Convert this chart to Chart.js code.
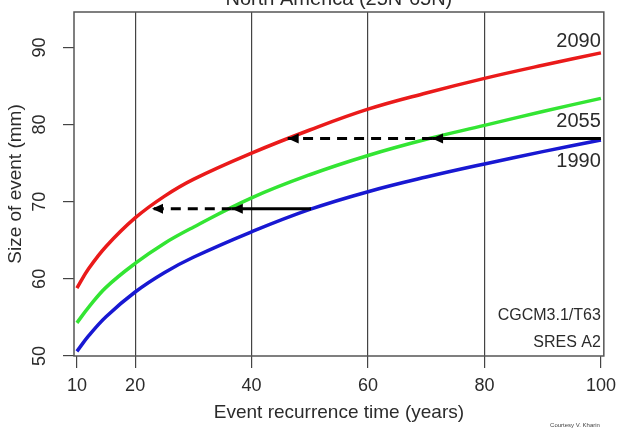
<!DOCTYPE html>
<html><head><meta charset="utf-8">
<script src="https://cdn.jsdelivr.net/npm/chart.js@4/dist/chart.umd.min.js"></script>
<style>html,body{margin:0;padding:0;background:#fff}canvas{display:block}</style>
</head><body>
<canvas id="c" width="623" height="432" style="width:623px;height:432px"></canvas>
<script>
// ---- data ----
const xYears    = [10, 12, 15, 20, 25, 30, 40, 50, 60, 70, 80, 90, 100];
const red2090   = [58.8, 61.3, 64.2, 67.9, 70.7, 72.9, 76.3, 79.3, 82.0, 84.1, 86.0, 87.7, 89.3];
const green2055 = [54.3, 56.3, 58.9, 62.0, 64.6, 66.7, 70.5, 73.5, 76.0, 78.1, 79.9, 81.7, 83.4];
const blue1990  = [50.6, 52.6, 55.1, 58.3, 60.8, 62.8, 66.1, 69.0, 71.3, 73.2, 74.9, 76.5, 78.0];
const seriesNames = ['2090', '2055', '1990'];

// arrows: event size level, recurrence in 1990, 2055, 2090
const arrowLevels   = [69.1, 78.2];
const arrowFrom1990 = [50.2, 100];
const arrowAt2055   = [36.6, 71.0];
const arrowAt2090   = [22.9, 46.2];

const xTickValues = [10, 20, 40, 60, 80, 100];
const yTickValues = [50, 60, 70, 80, 90];

const titleText  = 'North America (25N-65N)';
const xTitleText = 'Event recurrence time (years)';
const yTitleText = 'Size of event (mm)';
const noteLines  = ['CGCM3.1/T63', 'SRES A2'];
const courtesyText = 'Courtesy V. Kharin';

// ---- build datasets ----
const pts = (ys) => xYears.map((x, i) => ({x, y: ys[i]}));
const datasets = [];
arrowLevels.forEach((lv, i) => {
  datasets.push({data: [{x: arrowFrom1990[i], y: lv}, {x: arrowAt2055[i], y: lv}],
    borderColor: '#000', borderWidth: 3, pointRadius: 0, tension: 0});
  datasets.push({data: [{x: arrowAt2055[i], y: lv}, {x: arrowAt2090[i], y: lv}],
    borderColor: '#000', borderWidth: 3, borderDash: [10, 7], pointRadius: 0, tension: 0});
});
const curveColors = ['#ea1a1a', '#33e533', '#1818d2'];
[red2090, green2055, blue1990].forEach((ys, i) => {
  datasets.push({label: seriesNames[i], data: pts(ys), borderColor: curveColors[i],
    borderWidth: 3.5, pointRadius: 0, tension: 0.4});
});

const TXT = '#2b2b2b';
const FONT = "'Liberation Sans', Arial, sans-serif";

const deco = {
  id: 'deco',
  beforeDraw(chart) {
    const ctx = chart.ctx;
    ctx.save(); ctx.fillStyle = '#fff'; ctx.fillRect(0, 0, chart.width, chart.height); ctx.restore();
  },
  afterDatasetsDraw(chart) {
    const ctx = chart.ctx, xs = chart.scales.x, ys = chart.scales.y, a = chart.chartArea;
    ctx.save();
    // arrowheads
    ctx.fillStyle = '#000';
    const head = (xv, yv) => {
      const px = xs.getPixelForValue(xv), py = ys.getPixelForValue(yv);
      ctx.beginPath(); ctx.moveTo(px, py); ctx.lineTo(px + 11, py - 5); ctx.lineTo(px + 11, py + 5); ctx.closePath(); ctx.fill();
    };
    arrowLevels.forEach((lv, i) => { head(arrowAt2055[i], lv); head(arrowAt2090[i], lv); });
    // frame
    ctx.strokeStyle = '#555'; ctx.lineWidth = 1.5;
    ctx.strokeRect(a.left, a.top, a.right - a.left, a.bottom - a.top);
    // series labels
    ctx.fillStyle = TXT; ctx.font = '20px ' + FONT; ctx.textAlign = 'right'; ctx.textBaseline = 'middle';
    const lx = a.right - 3;
    ctx.fillText(seriesNames[0], lx, 41);
    ctx.fillText(seriesNames[1], lx, 121);
    ctx.fillText(seriesNames[2], lx, 161);
    ctx.font = '16px ' + FONT;
    ctx.fillText(noteLines[0], lx, 316);
    ctx.fillText(noteLines[1], lx, 343);
    ctx.restore();
  },
  afterDraw(chart) {
    const ctx = chart.ctx, ys = chart.scales.y, a = chart.chartArea;
    ctx.save();
    ctx.fillStyle = TXT;
    // y tick labels (rotated)
    ctx.font = '18px ' + FONT; ctx.textAlign = 'center'; ctx.textBaseline = 'middle';
    ys.ticks.forEach(t => {
      const py = ys.getPixelForValue(t.value);
      ctx.save(); ctx.translate(40, py); ctx.rotate(-Math.PI / 2); ctx.fillText(String(t.value), 0, 0); ctx.restore();
    });
    // y title
    ctx.font = '19px ' + FONT;
    ctx.save(); ctx.translate(16, (a.top + a.bottom) / 2); ctx.rotate(-Math.PI / 2); ctx.fillText(yTitleText, 0, 0); ctx.restore();
    // x title
    ctx.fillText(xTitleText, (a.left + a.right) / 2, 413);
    // main title (cut off at top)
    ctx.font = '20px ' + FONT; ctx.textBaseline = 'alphabetic';
    ctx.fillText(titleText, (a.left + a.right) / 2, 5);
    // courtesy
    ctx.font = '6px ' + FONT; ctx.fillStyle = '#444';
    ctx.fillText(courtesyText, 575, 427);
    ctx.restore();
  }
};

new Chart(document.getElementById('c'), {
  type: 'line',
  data: {datasets},
  options: {
    responsive: false, animation: false, devicePixelRatio: 1,
    layout: {padding: {top: 12, right: 13, left: 0, bottom: 0}},
    plugins: {legend: {display: false}, tooltip: {enabled: false}, title: {display: false}},
    scales: {
      x: {
        type: 'linear', min: 9.5, max: 100.5,
        afterBuildTicks: s => { s.ticks = xTickValues.map(v => ({value: v})); },
        afterFit: s => { s.height = 76; },
        border: {display: false},
        grid: {
          drawOnChartArea: true, drawTicks: true, tickLength: 12, lineWidth: 1.2,
          tickColor: '#444',
          color: c => (c.tick && (c.tick.value === 10 || c.tick.value === 100)) ? 'rgba(0,0,0,0)' : '#444'
        },
        ticks: {color: TXT, font: {size: 18, family: FONT}, padding: 7, maxRotation: 0, autoSkip: false}
      },
      y: {
        type: 'linear', min: 50, max: 94.6,
        afterBuildTicks: s => { s.ticks = yTickValues.map(v => ({value: v})); },
        afterFit: s => { s.width = 74; },
        border: {display: false},
        grid: {drawOnChartArea: false, drawTicks: true, tickLength: 11, tickColor: '#444', lineWidth: 1.2},
        ticks: {display: false}
      }
    }
  },
  plugins: [deco]
});
</script>
</body></html>
